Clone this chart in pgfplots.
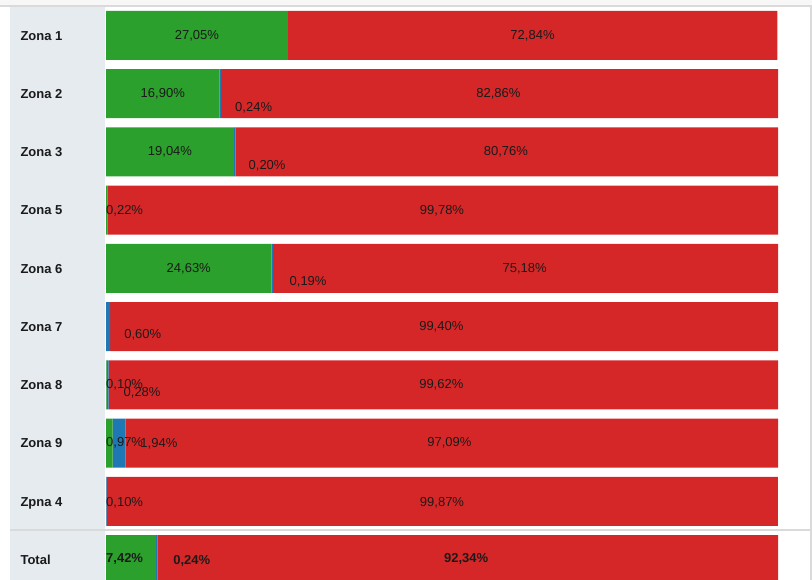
\documentclass[border=0pt]{standalone}
\usepackage{fontspec}
\setmainfont{Liberation Sans}
\usepackage{pgfplots}
\pgfplotsset{compat=1.18}
\usepackage{pgfplotstable}
\definecolor{cg}{HTML}{2CA02C}
\definecolor{cb}{HTML}{1F77B4}
\definecolor{cr}{HTML}{D62728}
\definecolor{panel}{HTML}{E6EBF0}
\definecolor{frame}{HTML}{DADADA}
\definecolor{txt}{HTML}{1A1A1A}
\tikzset{
  lab/.style={font=\fontsize{13bp}{15bp}\selectfont, text=txt, inner sep=0pt, text height=9.4bp, text depth=0pt},
  labb/.style={lab, font=\fontsize{13bp}{15bp}\selectfont\bfseries},
  rl/.style={font=\fontsize{13bp}{15bp}\selectfont\bfseries, text=txt, inner sep=0pt, text height=9.4bp, text depth=0pt, anchor=west},
}

\pgfplotstableread{
y green blue red
0 27.05 0.00 72.84
1 16.90 0.24 82.86
2 19.04 0.20 80.76
3 0.22 0.00 99.78
4 24.63 0.19 75.18
5 0.00 0.60 99.40
6 0.10 0.28 99.62
7 0.97 1.94 97.09
8 0.00 0.10 99.87
9 7.42 0.24 92.34
}\data

\begin{document}
\begin{tikzpicture}
\begin{scope}[x=1bp,y=1bp]
\fill[black!3] (0,574) rectangle (812,580);
\fill[panel] (10,0) rectangle (105,574);
\draw[frame,line width=1.5bp] (0,573.8) -- (812,573.8);
\draw[frame,line width=2bp] (811,0) -- (811,574);
\end{scope}
\begin{axis}[at={(106bp,573.625bp)}, anchor=north west, scale only axis,
  width=672bp, height=573.625bp,
  xmin=0, xmax=100, ymin=-0.5, ymax=9.348, y dir=reverse,
  xbar stacked, bar width=49bp,
  axis line style={draw=none}, xtick=\empty, ytick=\empty,
  clip mode=individual,
]
\addplot[fill=cg, draw=none] table[x=green, y=y] {\data};
\addplot[fill=cb, draw=none] table[x=blue, y=y] {\data};
\addplot[fill=cr, draw=none] table[x=red, y=y] {\data};

% row label anchors
\coordinate (r0) at (axis cs:-12.75,0);
\coordinate (r1) at (axis cs:-12.75,1);
\coordinate (r2) at (axis cs:-12.75,2);
\coordinate (r3) at (axis cs:-12.75,3);
\coordinate (r4) at (axis cs:-12.75,4);
\coordinate (r5) at (axis cs:-12.75,5);
\coordinate (r6) at (axis cs:-12.75,6);
\coordinate (r7) at (axis cs:-12.75,7);
\coordinate (r8) at (axis cs:-12.75,8);
\coordinate (r9) at (axis cs:-12.75,9);

% value label anchors
\coordinate (a0g) at (axis cs:13.525,-0.02);
\coordinate (a0r) at (axis cs:63.47,-0.02);
\coordinate (a1g) at (axis cs:8.45,0.98);
\coordinate (a1b) at (axis cs:19.2,1.22);
\coordinate (a1r) at (axis cs:58.4,0.98);
\coordinate (a2g) at (axis cs:9.52,1.98);
\coordinate (a2b) at (axis cs:21.2,2.22);
\coordinate (a2r) at (axis cs:59.5,1.98);
\coordinate (a3g) at (axis cs:0,3);
\coordinate (a3r) at (axis cs:50.0,3);
\coordinate (a4g) at (axis cs:12.315,3.98);
\coordinate (a4b) at (axis cs:27.3,4.22);
\coordinate (a4r) at (axis cs:62.3,3.98);
\coordinate (a5b) at (axis cs:2.7,5.12);
\coordinate (a5r) at (axis cs:49.9,4.98);
\coordinate (a6g) at (axis cs:0,5.98);
\coordinate (a6b) at (axis cs:2.6,6.12);
\coordinate (a6r) at (axis cs:49.9,5.98);
\coordinate (a7g) at (axis cs:0,6.98);
\coordinate (a7b) at (axis cs:5.1,7.0);
\coordinate (a7r) at (axis cs:51.1,6.98);
\coordinate (a8b) at (axis cs:0,8);
\coordinate (a8r) at (axis cs:50.0,8);
\coordinate (a9g) at (axis cs:0,8.97);
\coordinate (a9b) at (axis cs:10.0,9.0);
\coordinate (a9r) at (axis cs:53.6,8.97);
\end{axis}

\node[rl] at (r0) {Zona 1};
\node[rl] at (r1) {Zona 2};
\node[rl] at (r2) {Zona 3};
\node[rl] at (r3) {Zona 5};
\node[rl] at (r4) {Zona 6};
\node[rl] at (r5) {Zona 7};
\node[rl] at (r6) {Zona 8};
\node[rl] at (r7) {Zona 9};
\node[rl] at (r8) {Zpna 4};
\node[rl] at (r9) {Total};

\node[lab] at (a0g) {27,05\%};
\node[lab] at (a0r) {72,84\%};
\node[lab] at (a1g) {16,90\%};
\node[lab,anchor=west] at (a1b) {0,24\%};
\node[lab] at (a1r) {82,86\%};
\node[lab] at (a2g) {19,04\%};
\node[lab,anchor=west] at (a2b) {0,20\%};
\node[lab] at (a2r) {80,76\%};
\node[lab,anchor=west] at (a3g) {0,22\%};
\node[lab] at (a3r) {99,78\%};
\node[lab] at (a4g) {24,63\%};
\node[lab,anchor=west] at (a4b) {0,19\%};
\node[lab] at (a4r) {75,18\%};
\node[lab,anchor=west] at (a5b) {0,60\%};
\node[lab] at (a5r) {99,40\%};
\node[lab,anchor=west] at (a6g) {0,10\%};
\node[lab,anchor=west] at (a6b) {0,28\%};
\node[lab] at (a6r) {99,62\%};
\node[lab,anchor=west] at (a7g) {0,97\%};
\node[lab,anchor=west] at (a7b) {1,94\%};
\node[lab] at (a7r) {97,09\%};
\node[lab,anchor=west] at (a8b) {0,10\%};
\node[lab] at (a8r) {99,87\%};
\node[labb,anchor=west] at (a9g) {7,42\%};
\node[labb,anchor=west] at (a9b) {0,24\%};
\node[labb] at (a9r) {92,34\%};

\begin{scope}[x=1bp,y=1bp]
\draw[frame,line width=2bp] (10,50) -- (811,50);
\end{scope}
\pgfresetboundingbox
\path[use as bounding box] (0,0) rectangle (812bp,580bp);
\end{tikzpicture}
\end{document}
